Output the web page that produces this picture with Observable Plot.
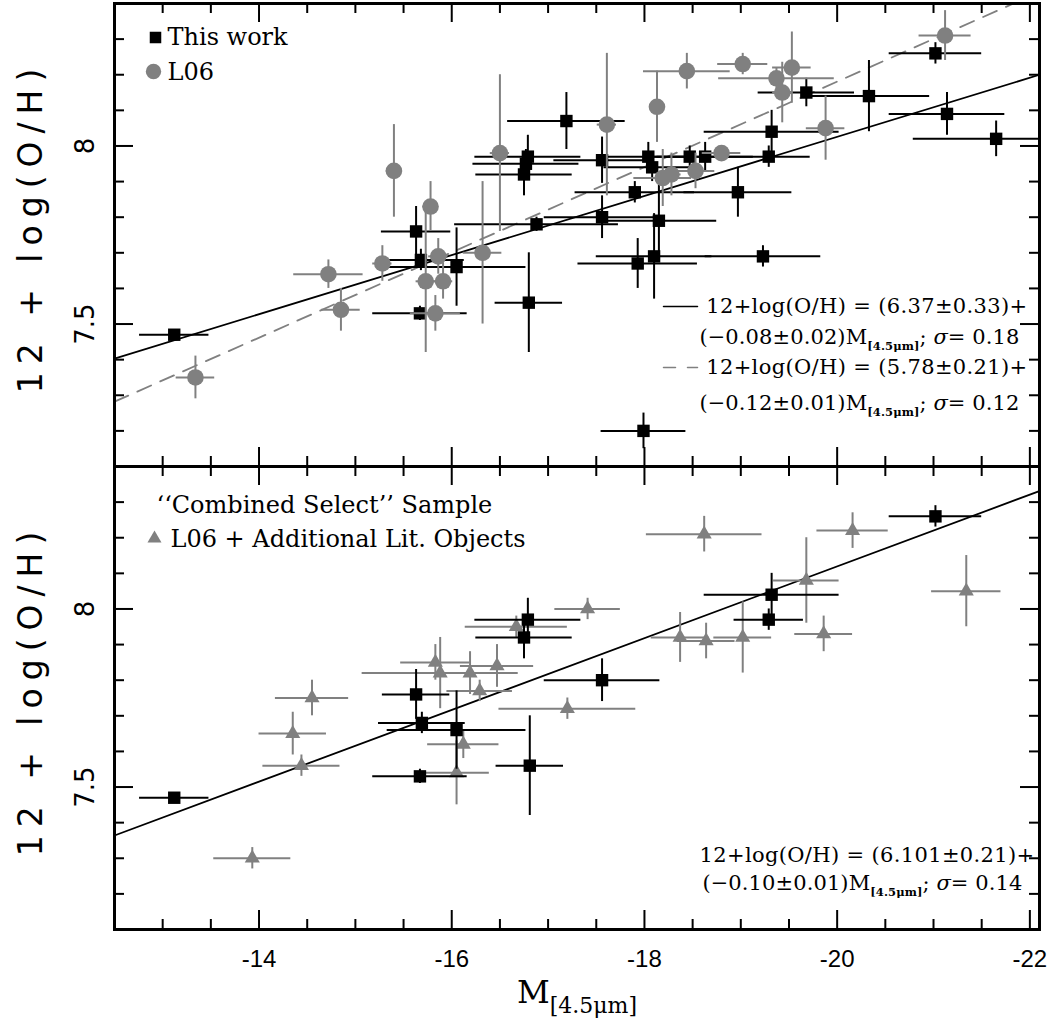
<!DOCTYPE html>
<html>
<head>
<meta charset="utf-8">
<script src="https://cdn.jsdelivr.net/npm/d3@7"></script>
<script src="https://cdn.jsdelivr.net/npm/@observablehq/plot@0.6"></script>
<style>
html,body{margin:0;padding:0;background:#fff;}
</style>
</head>
<body>
<div id="chart"></div>
<script>
// ---------------- data ----------------
const xMajorTicks = [-14, -16, -18, -20, -22];
const xMinorTicks = [-13, -13.5, -14.5, -15, -15.5, -16.5, -17, -17.5, -18.5, -19, -19.5, -20.5, -21, -21.5];
const yMajorTicks = [7.5, 8];
const yMinorTicks = [7.2, 7.3, 7.4, 7.6, 7.7, 7.8, 7.9, 8.1, 8.2, 8.3];

// top panel: this work (m = M[4.5um], oh = 12+log(O/H), em / eoh = errors)
const thisWork = [
  {m: -13.12, oh: 7.47, em: 0.36, eoh: 0.01},
  {m: -15.63, oh: 7.76, em: 0.36, eoh: 0.07},
  {m: -15.68, oh: 7.68, em: 0.45, eoh: 0.03},
  {m: -15.67, oh: 7.53, em: 0.49, eoh: 0.02},
  {m: -16.05, oh: 7.66, em: 0.72, eoh: 0.11},
  {m: -16.80, oh: 7.56, em: 0.35, eoh: 0.14},
  {m: -16.79, oh: 7.97, em: 0.55, eoh: 0.06},
  {m: -16.77, oh: 7.95, em: 0.55, eoh: 0.04},
  {m: -16.75, oh: 7.92, em: 0.50, eoh: 0.06},
  {m: -17.19, oh: 8.07, em: 0.61, eoh: 0.08},
  {m: -16.88, oh: 7.78, em: 0.85, eoh: 0.02},
  {m: -17.56, oh: 7.96, em: 0.50, eoh: 0.065},
  {m: -17.56, oh: 7.80, em: 0.60, eoh: 0.06},
  {m: -17.90, oh: 7.87, em: 0.62, eoh: 0.03},
  {m: -17.93, oh: 7.67, em: 0.62, eoh: 0.07},
  {m: -17.99, oh: 7.20, em: 0.44, eoh: 0.05},
  {m: -18.04, oh: 7.97, em: 0.50, eoh: 0.04},
  {m: -18.08, oh: 7.94, em: 0.50, eoh: 0.04},
  {m: -18.10, oh: 7.69, em: 0.60, eoh: 0.12},
  {m: -18.15, oh: 7.79, em: 0.60, eoh: 0.10},
  {m: -18.47, oh: 7.97, em: 0.40, eoh: 0.03},
  {m: -18.63, oh: 7.97, em: 0.50, eoh: 0.04},
  {m: -18.97, oh: 7.87, em: 0.56, eoh: 0.07},
  {m: -19.23, oh: 7.69, em: 0.60, eoh: 0.03},
  {m: -19.29, oh: 7.97, em: 0.43, eoh: 0.03},
  {m: -19.32, oh: 8.04, em: 0.70, eoh: 0.06},
  {m: -19.68, oh: 8.15, em: 0.50, eoh: 0.04},
  {m: -20.33, oh: 8.14, em: 0.63, eoh: 0.10},
  {m: -21.02, oh: 8.26, em: 0.48, eoh: 0.03},
  {m: -21.14, oh: 8.09, em: 0.60, eoh: 0.06},
  {m: -21.65, oh: 8.02, em: 0.86, eoh: 0.05}
];

// top panel: L06
const l06 = [
  {m: -13.34, oh: 7.35, em: 0.20, eoh: 0.06},
  {m: -14.72, oh: 7.64, em: 0.36, eoh: 0.04},
  {m: -14.85, oh: 7.54, em: 0.20, eoh: 0.06},
  {m: -15.28, oh: 7.67, em: 0.10, eoh: 0.05},
  {m: -15.40, oh: 7.93, em: 0.08, eoh: 0.13},
  {m: -15.73, oh: 7.62, em: 0.10, eoh: 0.20},
  {m: -15.78, oh: 7.83, em: 0.08, eoh: 0.07},
  {m: -15.83, oh: 7.53, em: 0.26, eoh: 0.05},
  {m: -15.86, oh: 7.69, em: 0.10, eoh: 0.05},
  {m: -15.91, oh: 7.62, em: 0.10, eoh: 0.05},
  {m: -16.32, oh: 7.70, em: 0.20, eoh: 0.20},
  {m: -16.50, oh: 7.98, em: 0.10, eoh: 0.22},
  {m: -17.61, oh: 8.06, em: 0.10, eoh: 0.20},
  {m: -18.13, oh: 8.11, em: 0.05, eoh: 0.10},
  {m: -18.19, oh: 7.91, em: 0.30, eoh: 0.08},
  {m: -18.28, oh: 7.92, em: 0.10, eoh: 0.06},
  {m: -18.44, oh: 8.21, em: 0.45, eoh: 0.05},
  {m: -18.53, oh: 7.93, em: 0.20, eoh: 0.05},
  {m: -18.80, oh: 7.98, em: 0.20, eoh: 0.02},
  {m: -19.02, oh: 8.23, em: 0.26, eoh: 0.03},
  {m: -19.37, oh: 8.19, em: 0.60, eoh: 0.03},
  {m: -19.43, oh: 8.15, em: 0.10, eoh: 0.085},
  {m: -19.53, oh: 8.22, em: 0.20, eoh: 0.10},
  {m: -19.88, oh: 8.05, em: 0.20, eoh: 0.09},
  {m: -21.12, oh: 8.31, em: 0.27, eoh: 0.07}
];

// bottom panel: this work, combined select sample
const thisWorkSelect = [
  {m: -13.12, oh: 7.47, em: 0.36, eoh: 0.01},
  {m: -15.63, oh: 7.76, em: 0.35, eoh: 0.07},
  {m: -15.69, oh: 7.68, em: 0.45, eoh: 0.03},
  {m: -15.67, oh: 7.53, em: 0.49, eoh: 0.02},
  {m: -16.05, oh: 7.66, em: 0.72, eoh: 0.11},
  {m: -16.81, oh: 7.56, em: 0.35, eoh: 0.14},
  {m: -16.79, oh: 7.97, em: 0.55, eoh: 0.06},
  {m: -16.75, oh: 7.92, em: 0.50, eoh: 0.06},
  {m: -17.56, oh: 7.80, em: 0.60, eoh: 0.06},
  {m: -19.29, oh: 7.97, em: 0.36, eoh: 0.03},
  {m: -19.32, oh: 8.04, em: 0.70, eoh: 0.06},
  {m: -21.02, oh: 8.26, em: 0.48, eoh: 0.03}
];

// bottom panel: L06 + additional literature objects
const litSelect = [
  {m: -13.93, oh: 7.30, em: 0.40, eoh: 0.03},
  {m: -14.35, oh: 7.65, em: 0.35, eoh: 0.06},
  {m: -14.44, oh: 7.56, em: 0.40, eoh: 0.03},
  {m: -14.55, oh: 7.75, em: 0.38, eoh: 0.05},
  {m: -15.83, oh: 7.85, em: 0.36, eoh: 0.05},
  {m: -15.88, oh: 7.82, em: 0.81, eoh: 0.10},
  {m: -16.12, oh: 7.62, em: 0.37, eoh: 0.04},
  {m: -16.05, oh: 7.54, em: 0.34, eoh: 0.09},
  {m: -16.19, oh: 7.82, em: 0.30, eoh: 0.06},
  {m: -16.29, oh: 7.77, em: 0.34, eoh: 0.03},
  {m: -16.47, oh: 7.84, em: 0.38, eoh: 0.06},
  {m: -16.67, oh: 7.95, em: 0.53, eoh: 0.03},
  {m: -17.20, oh: 7.72, em: 0.71, eoh: 0.03},
  {m: -17.41, oh: 8.00, em: 0.34, eoh: 0.03},
  {m: -18.37, oh: 7.92, em: 0.30, eoh: 0.07},
  {m: -18.62, oh: 8.21, em: 0.60, eoh: 0.05},
  {m: -18.64, oh: 7.91, em: 0.30, eoh: 0.05},
  {m: -19.02, oh: 7.92, em: 0.30, eoh: 0.10},
  {m: -19.68, oh: 8.08, em: 0.34, eoh: 0.12},
  {m: -19.86, oh: 7.93, em: 0.30, eoh: 0.05},
  {m: -20.16, oh: 8.22, em: 0.37, eoh: 0.05},
  {m: -21.34, oh: 8.05, em: 0.36, eoh: 0.10}
];

// fitted relations (end points as drawn)
const fitThisWork = [{m: -12.5, oh: 7.403}, {m: -22.1, oh: 8.200}];
const fitL06 = [{m: -12.5, oh: 7.282}, {m: -21.83, oh: 8.400}];
const fitCombined = [{m: -12.5, oh: 7.364}, {m: -22.1, oh: 8.331}];

// texts
const legendTop = ["This work", "L06"];
const legendBottom = ["‘‘Combined Select’’ Sample", "L06 + Additional Lit. Objects"];
const eqTop = ["12+log(O/H) = (6.37±0.33)+", "(−0.08±0.02)M_{[4.5μm]}; σ= 0.18",
               "12+log(O/H) = (5.78±0.21)+", "(−0.12±0.01)M_{[4.5μm]}; σ= 0.12"];
const eqBottom = ["12+log(O/H) = (6.101±0.21)+", "(−0.10±0.01)M_{[4.5μm]}; σ= 0.14"];
const yTitle = ["12 + log(O/H)"];
const xTitle = ["M_{[4.5μm]}"];

// ---------------- chart ----------------
const W = 1050, H = 1025, ML = 114, MR = 11, MT = 3, MB = 96;
const panelH = (H - MT - MB) / 2;
const frameW = W - ML - MR;
const TOP = () => "top", BOT = () => "bottom";
const BLACK = "#000", GRAY = "#808080";
const serif = "DejaVu Serif";
const EQ = 21;
const seg = {draw(ctx, l) { ctx.moveTo(0, 0); ctx.lineTo(0, -l); }};

const ebars = (data, fy, color) => [
  Plot.ruleX(data, {x: "m", y1: d => d.oh - d.eoh, y2: d => d.oh + d.eoh, fy, stroke: color, strokeWidth: 2, clip: true}),
  Plot.ruleY(data, {y: "oh", x1: d => d.m - d.em, x2: d => d.m + d.em, fy, stroke: color, strokeWidth: 2, clip: true})
];

const ticks = [
  Plot.tickX(xMajorTicks, {x: d => d, insetBottom: panelH - 19, strokeWidth: 2}),
  Plot.tickX(xMajorTicks, {x: d => d, insetTop: panelH - 19, strokeWidth: 2}),
  Plot.tickX(xMinorTicks, {x: d => d, insetBottom: panelH - 10, strokeWidth: 2}),
  Plot.tickX(xMinorTicks, {x: d => d, insetTop: panelH - 10, strokeWidth: 2}),
  Plot.tickY(yMajorTicks, {y: d => d, insetRight: frameW - 19, strokeWidth: 2}),
  Plot.tickY(yMajorTicks, {y: d => d, insetLeft: frameW - 19, strokeWidth: 2}),
  Plot.tickY(yMinorTicks, {y: d => d, insetRight: frameW - 10, strokeWidth: 2}),
  Plot.tickY(yMinorTicks, {y: d => d, insetLeft: frameW - 10, strokeWidth: 2})
];

const txt = (data, fy, o) => Plot.text(data, {fy, lineAnchor: "middle", fontFamily: serif, fill: BLACK, ...o});

const svg = Plot.plot({
  width: W, height: H,
  marginLeft: ML, marginRight: MR, marginTop: MT, marginBottom: MB,
  x: {domain: [-12.5, -22.1]},
  y: {domain: [7.1, 8.4]},
  fy: {domain: ["top", "bottom"], padding: 0, axis: null},
  style: {background: "white", fontFamily: "DejaVu Sans", color: "black"},
  marks: [
    // ---- top panel
    Plot.line(fitThisWork, {x: "m", y: "oh", fy: TOP, stroke: BLACK, strokeWidth: 1.8, clip: true}),
    Plot.line(fitL06, {x: "m", y: "oh", fy: TOP, stroke: GRAY, strokeWidth: 1.8, strokeDasharray: "15,10", clip: true}),
    ...ebars(thisWork, TOP, BLACK),
    Plot.dot(thisWork, {x: "m", y: "oh", fy: TOP, symbol: "square", r: 7, fill: BLACK}),
    ...ebars(l06, TOP, GRAY),
    Plot.dot(l06, {x: "m", y: "oh", fy: TOP, symbol: "circle", r: 8.3, fill: GRAY}),

    // ---- bottom panel
    Plot.line(fitCombined, {x: "m", y: "oh", fy: BOT, stroke: BLACK, strokeWidth: 1.8, clip: true}),
    ...ebars(litSelect, BOT, GRAY),
    Plot.dot(litSelect, {x: "m", y: "oh", fy: BOT, symbol: "triangle", r: 5.6, fill: GRAY}),
    ...ebars(thisWorkSelect, BOT, BLACK),
    Plot.dot(thisWorkSelect, {x: "m", y: "oh", fy: BOT, symbol: "square", r: 7, fill: BLACK}),

    // ---- legends top
    Plot.dot([legendTop[0]], {frameAnchor: "top-left", dx: 41, dy: 34, fy: TOP, symbol: "square", r: 6.5, fill: BLACK}),
    Plot.dot([legendTop[1]], {frameAnchor: "top-left", dx: 39, dy: 68, fy: TOP, symbol: "circle", r: 7.7, fill: GRAY}),
    txt([legendTop[0]], TOP, {frameAnchor: "top-left", dx: 53, dy: 34, textAnchor: "start", fontSize: 24}),
    txt([legendTop[1]], TOP, {frameAnchor: "top-left", dx: 53, dy: 69, textAnchor: "start", fontSize: 24}),

    // ---- legends bottom
    txt([legendBottom[0]], BOT, {frameAnchor: "top-left", dx: 42, dy: 39, textAnchor: "start", fontSize: 24}),
    Plot.dot([legendBottom[1]], {frameAnchor: "top-left", dx: 40, dy: 72, fy: BOT, symbol: "triangle", r: 5.2, fill: GRAY}),
    txt([legendBottom[1]], BOT, {frameAnchor: "top-left", dx: 56, dy: 73, textAnchor: "start", fontSize: 24}),

    // ---- fit equations top
    Plot.vector([eqTop[0]], {frameAnchor: "top-right", dx: -376, dy: 303, fy: TOP, length: 34, rotate: 90, anchor: "start", shape: seg, stroke: BLACK, strokeWidth: 1.5}),
    Plot.vector([eqTop[2]], {frameAnchor: "top-right", dx: -376, dy: 364, fy: TOP, length: 34, rotate: 90, anchor: "start", shape: seg, stroke: GRAY, strokeWidth: 1.5, strokeDasharray: "12,12"}),
    txt([eqTop[0]], TOP, {frameAnchor: "top-right", dx: -12, dy: 303, textAnchor: "end", fontSize: EQ}),
    txt([eqTop[1]], TOP, {frameAnchor: "top-right", dx: -20, dy: 334, textAnchor: "end", fontSize: EQ}),
    txt([eqTop[2]], TOP, {frameAnchor: "top-right", dx: -12, dy: 364, textAnchor: "end", fontSize: EQ}),
    txt([eqTop[3]], TOP, {frameAnchor: "top-right", dx: -20, dy: 400, textAnchor: "end", fontSize: EQ}),

    // ---- fit equation bottom
    txt([eqBottom[0]], BOT, {frameAnchor: "top-right", dx: -5, dy: 389, textAnchor: "end", fontSize: EQ}),
    txt([eqBottom[1]], BOT, {frameAnchor: "top-right", dx: -17, dy: 417, textAnchor: "end", fontSize: EQ}),

    // ---- frame, ticks, axes
    Plot.frame({stroke: BLACK, strokeWidth: 3}),
    ...ticks,
    Plot.axisY(yMajorTicks, {anchor: "left", label: null, tickSize: 0, tickPadding: 21, tickRotate: -90, fontSize: 26, fontFamily: "DejaVu Sans", tickFormat: d => String(d)}),
    Plot.axisX(xMajorTicks, {anchor: "bottom", label: null, tickSize: 0, tickPadding: 20, fontSize: 24, fontFamily: "Liberation Sans", tickFormat: d => String(d)}),
    Plot.text(yTitle, {frameAnchor: "left", dx: -83, dy: -8, rotate: -90, textAnchor: "middle", lineAnchor: "middle", fontSize: 33, fontFamily: "DejaVu Sans", fill: BLACK}),
    txt(xTitle, BOT, {frameAnchor: "bottom", dx: 0, dy: 63, textAnchor: "middle", fontSize: 32})
  ]
});

// rich text: subscripts and italic sigma
function rich(el, subSize, subDy, bold) {
  const s = el.textContent;
  const parts = s.split(/(_\{[^}]*\}|σ)/);
  while (el.firstChild) el.removeChild(el.firstChild);
  let shifted = false;
  for (const p of parts) {
    if (!p) continue;
    const ts = document.createElementNS("http://www.w3.org/2000/svg", "tspan");
    if (p.startsWith("_{")) {
      ts.textContent = p.slice(2, -1);
      ts.setAttribute("font-size", subSize);
      if (bold) ts.setAttribute("font-weight", "bold");
      ts.setAttribute("dy", subDy);
      shifted = true;
    } else {
      ts.textContent = p;
      if (shifted) { ts.setAttribute("dy", -subDy); shifted = false; }
      if (p === "σ") ts.setAttribute("font-style", "italic");
    }
    el.appendChild(ts);
  }
}
d3.select(svg).selectAll("text").each(function() {
  const t = this.textContent;
  if (t === xTitle[0]) rich(this, 22, 10, false);
  else if (t.includes("_{")) { rich(this, 11.5, 6, true); this.setAttribute("letter-spacing", 0.1); }
  else if (t.startsWith("12+log")) this.setAttribute("letter-spacing", 0.35);
  else if (t === yTitle[0]) this.setAttribute("letter-spacing", 8);
});

document.getElementById("chart").appendChild(svg);
</script>
</body>
</html>
